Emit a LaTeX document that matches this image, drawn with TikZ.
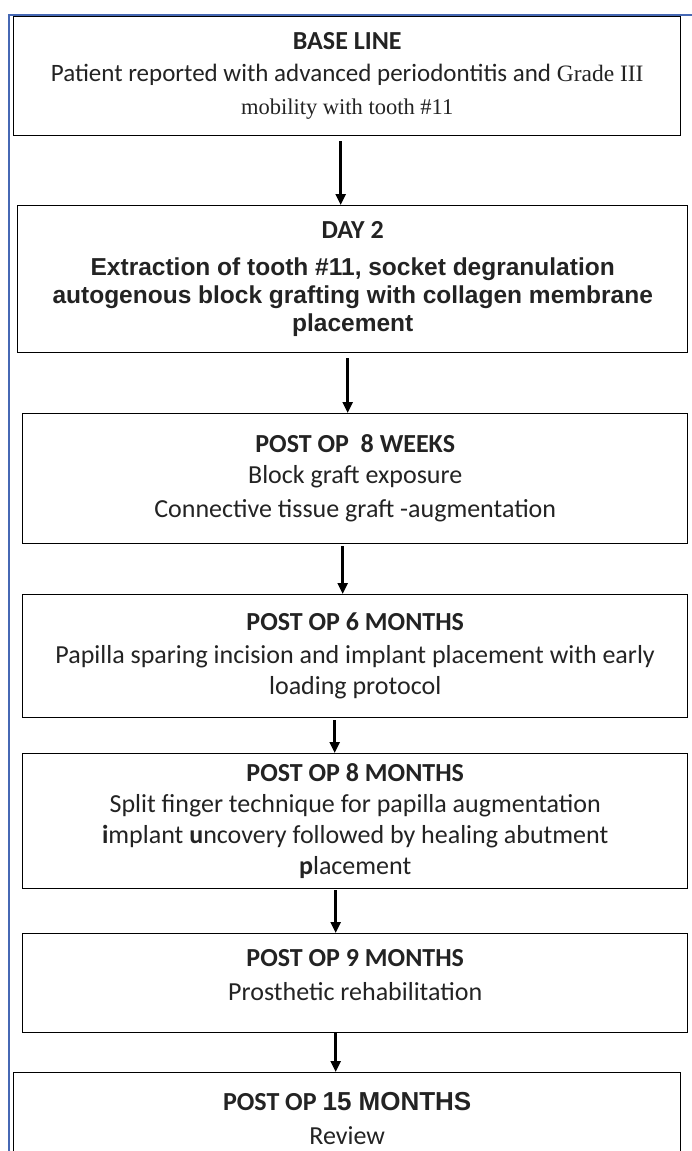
\documentclass[tikz,border=0pt]{standalone}
\usepackage{fontspec}
\setmainfont{Carlito}
\newfontfamily\arialfont{Liberation Sans}
\newfontfamily\timesfont{Liberation Serif}
\usetikzlibrary{arrows.meta, positioning}
\definecolor{frameblue}{RGB}{70,104,180}
\definecolor{textgray}{RGB}{35,35,35}
\newcommand{\arialline}[1]{{\arialfont\bfseries\fontsize{24.5}{28}\selectfont #1}}

\begin{document}
\begin{tikzpicture}[
        x=1pt, y=-1pt,
        block/.style={rectangle, draw, line width=1.4pt, fill=white, anchor=north west, align=center, inner sep=0pt, text=textgray, font=\fontsize{26}{31}\selectfont},
        line/.style={draw, line width=2.6pt, -{Triangle[width=10pt, length=11pt]}}
    ]
    \useasboundingbox (0,0) rectangle (692,1151);

    % frame
    \draw[frameblue, line width=1.5pt] (9,1151) -- (9,15) -- (692,15);

    % stages
    \node[block, minimum width=667pt, minimum height=119pt] (baseline) at (13,16)
        {\textbf{BASE LINE}\\[1pt]{\fontsize{25}{31}\selectfont Patient reported with advanced periodontitis and {\timesfont\fontsize{23.5}{31}\selectfont Grade III}}\\[2pt]{\timesfont\fontsize{22.5}{31}\selectfont mobility with tooth \#11}};
    \node[block, minimum width=670pt, minimum height=147pt] (day2) at (17,205)
        {\textbf{DAY 2}\\[6pt]\arialline{Extraction of tooth \#11, socket degranulation}\\[-3pt]\arialline{autogenous block grafting with collagen membrane}\\[-3pt]\arialline{placement}};
    \node[block, minimum width=665pt, minimum height=130pt] (week8) at (22,413)
        {\textbf{POST OP\ \ 8 WEEKS}\\Block graft exposure\\[3pt]Connective tissue graft -augmentation};
    \node[block, minimum width=665pt, minimum height=123pt] (month6) at (22,594)
        {\textbf{POST OP 6 MONTHS}\\[2pt]Papilla sparing incision and implant placement with early\\loading protocol};
    \node[block, minimum width=665pt, minimum height=135pt] (month8) at (22,753)
        {\textbf{POST OP 8 MONTHS}\\Split finger technique for papilla augmentation\\\textbf{i}mplant \textbf{u}ncovery followed by healing abutment\\\textbf{p}lacement};
    \node[block, minimum width=665pt, minimum height=99pt] (month9) at (22,933)
        {\textbf{POST OP 9 MONTHS}\\[3pt]Prosthetic rehabilitation\\[-15pt]};
    \node[block, minimum width=667pt, minimum height=92pt] (month15) at (13,1072)
        {\textbf{POST OP {\arialfont 15 MONTHS}}\\[3pt]Review};

    % arrows
    \path[line] ([xshift=-6.5pt, yshift=-5pt]baseline.south) -- ([xshift=-6.5pt]baseline.south |- day2.north);
    \path[line] ([xshift=-5pt, yshift=-5pt]day2.south) -- ([xshift=-5pt]day2.south |- week8.north);
    \path[line] ([xshift=-12.5pt, yshift=-2pt]week8.south) -- ([xshift=-12.5pt]week8.south |- month6.north);
    \path[line] ([xshift=-20.5pt, yshift=-2pt]month6.south) -- ([xshift=-20.5pt]month6.south |- month8.north);
    \path[line] ([xshift=-19.5pt, yshift=-1pt]month8.south) -- ([xshift=-19.5pt]month8.south |- month9.north);
    \path[line] ([xshift=-19.5pt]month9.south) -- ([xshift=-19.5pt]month9.south |- month15.north);
\end{tikzpicture}
\end{document}
